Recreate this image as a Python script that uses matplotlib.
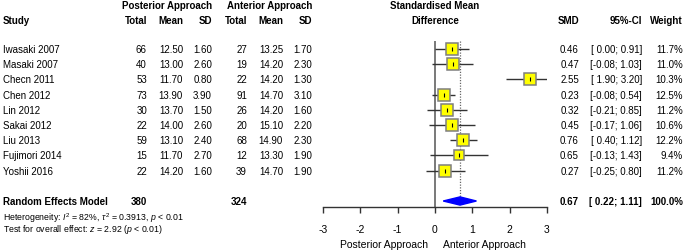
import numpy as np
import matplotlib
matplotlib.use("Agg")
import matplotlib.pyplot as plt

plt.rcParams['font.family'] = ['Liberation Sans', 'DejaVu Sans']
plt.rcParams['mathtext.fontset'] = 'custom'
plt.rcParams['mathtext.rm'] = 'Liberation Sans'
plt.rcParams['mathtext.it'] = 'Liberation Sans:italic'

# ─────────────────────────────────────────────
# Data
# ─────────────────────────────────────────────
studies   = ["Iwasaki 2007", "Masaki 2007", "Checn 2011", "Chen 2012", "Lin 2012",
             "Sakai 2012", "Liu 2013", "Fujimori 2014", "Yoshii 2016"]
n_post    = [66, 40, 53, 73, 30, 22, 59, 15, 22]
mean_post = [12.50, 13.00, 11.70, 13.90, 13.70, 14.00, 13.10, 11.70, 14.20]
sd_post   = [1.60, 2.60, 0.80, 3.90, 1.50, 2.60, 2.40, 2.70, 1.60]
n_ant     = [27, 19, 22, 91, 26, 20, 68, 12, 39]
mean_ant  = [13.25, 14.20, 14.20, 14.70, 14.20, 15.10, 14.90, 13.30, 14.70]
sd_ant    = [1.70, 2.30, 1.30, 3.10, 1.60, 2.20, 2.30, 1.90, 1.90]
smd       = [0.46, 0.47, 2.55, 0.23, 0.32, 0.45, 0.76, 0.65, 0.27]
ci_low    = [0.00, -0.08, 1.90, -0.08, -0.21, -0.17, 0.40, -0.13, -0.25]
ci_high   = [0.91, 1.03, 3.20, 0.54, 0.85, 1.06, 1.12, 1.43, 0.80]
weight    = [11.7, 11.0, 10.3, 12.5, 11.2, 10.6, 12.2, 9.4, 11.2]

pooled_smd, pooled_low, pooled_high = 0.67, 0.22, 1.11
total_post, total_ant = 380, 324
xticks = [-3, -2, -1, 0, 1, 2, 3]

# ─────────────────────────────────────────────
# Layout: rows are shared by the text and the plot
# ─────────────────────────────────────────────
W, H = 685, 253
row0, step = 50, 15.2               # pixel y of first study row, row spacing
ylim = ((H - row0) / step, -row0 / step)
summary_row = len(studies) + 1
axis_row = 10.39

fig = plt.figure(figsize=(W / 100, H / 100), dpi=100)

ax_t = fig.add_axes([0, 0, 1, 1])
ax_t.set_xlim(0, W)
ax_t.set_ylim(*ylim)
ax_t.axis('off')

ax = fig.add_axes([323 / W, 0, 224 / W, 1])
ax.set_xlim(-3, 3)
ax.set_ylim(*ylim)
ax.patch.set_alpha(0)

fs = 7
bold = dict(fontsize=fs, fontweight='bold', va='center')
norm = dict(fontsize=fs, va='center')

# headers
ax_t.text(212, -2.89, "Posterior Approach", ha='right', **bold)
ax_t.text(312, -2.89, "Anterior Approach", ha='right', **bold)
ax_t.text(3, -1.91, "Study", ha='left', **bold)
for x, lab in [(147, "Total"), (183, "Mean"), (212, "SD"),
               (247, "Total"), (283, "Mean"), (312, "SD")]:
    ax_t.text(x, -1.91, lab, ha='right', **bold)
ax_t.text(435, -2.89, "Standardised Mean", ha='center', **bold)
ax_t.text(435, -1.91, "Difference", ha='center', **bold)
ax_t.text(579, -1.91, "SMD", ha='right', **bold)
ax_t.text(642, -1.91, "95%-CI", ha='right', **bold)
ax_t.text(683, -1.91, "Weight", ha='right', **bold)

# study rows
for i, name in enumerate(studies):
    ax_t.text(3, i, name, ha='left', **norm)
    ax_t.text(147, i, f"{n_post[i]}", ha='right', **norm)
    ax_t.text(183, i, f"{mean_post[i]:.2f}", ha='right', **norm)
    ax_t.text(212, i, f"{sd_post[i]:.2f}", ha='right', **norm)
    ax_t.text(247, i, f"{n_ant[i]}", ha='right', **norm)
    ax_t.text(283, i, f"{mean_ant[i]:.2f}", ha='right', **norm)
    ax_t.text(312, i, f"{sd_ant[i]:.2f}", ha='right', **norm)
    ax_t.text(579, i, f"{smd[i]:.2f}", ha='right', **norm)
    lo = f"{ci_low[i]:.2f}" if ci_low[i] < 0 else f" {ci_low[i]:.2f}"
    ax_t.text(642, i, f"[{lo}; {ci_high[i]:.2f}]", ha='right', **norm)
    ax_t.text(683, i, f"{weight[i]:.1f}%", ha='right', **norm)

# summary row
ax_t.text(3, summary_row, "Random Effects Model", ha='left', **bold)
ax_t.text(147, summary_row, f"{total_post}", ha='right', **bold)
ax_t.text(247, summary_row, f"{total_ant}", ha='right', **bold)
ax_t.text(579, summary_row, f"{pooled_smd:.2f}", ha='right', **bold)
ax_t.text(642, summary_row, f"[ {pooled_low:.2f}; {pooled_high:.2f}]", ha='right', **bold)
ax_t.text(683, summary_row, "100.0%", ha='right', **bold)

ax_t.text(3, 11.05, r"Heterogeneity: $I^2$ = 82%, $\tau^2$ = 0.3913, $p$ < 0.01",
          ha='left', va='center', fontsize=6.3)
ax_t.text(3, 11.84, r"Test for overall effect: $z$ = 2.92 ($p$ < 0.01)",
          ha='left', va='center', fontsize=6.3)

# ─────────────────────────────────────────────
# Forest plot
# ─────────────────────────────────────────────
rows = np.arange(len(studies))
ax.vlines(0, -0.53, axis_row, color='#555555', lw=1.1, zorder=1)
ax.vlines(pooled_smd, -0.53, summary_row - 0.25, color='#666666', lw=0.9,
          linestyles=(0, (1, 1.2)), zorder=1)
ax.hlines(rows, ci_low, ci_high, color='#333333', lw=1.0, zorder=2)

w = np.array(weight)
side_px = 12 * np.sqrt(w / 11.7)
for i in rows:
    ax.plot(smd[i], i, marker='s', ms=side_px[i] * 0.72, mfc='#FFFF00',
            mec='#7f7f7f', mew=1.1, ls='none', zorder=3)
    ax.plot(smd[i], i, marker='|', ms=2.5, color='black', mew=0.8, zorder=4)

dh = 0.27
ax.fill([pooled_low, pooled_smd, pooled_high, pooled_smd],
        [summary_row, summary_row - dh, summary_row, summary_row + dh],
        color='#0000FF', zorder=3)

for s in ['top', 'right', 'left']:
    ax.spines[s].set_visible(False)
ax.spines['bottom'].set_position(('data', axis_row))
ax.spines['bottom'].set_color('#333333')
ax.spines['bottom'].set_linewidth(1.0)
ax.set_yticks([])
ax.set_xticks(xticks)
ax.set_xticklabels([str(t) for t in xticks])
ax.tick_params(axis='x', direction='out', length=4, width=1.0, color='#333333',
               labelsize=7.5, pad=8)

ax.text(-0.2, 12.83, "Posterior Approach", ha='right', va='center', fontsize=7.5)
ax.text(0.22, 12.83, "Anterior Approach", ha='left', va='center', fontsize=7.5)

fig.savefig("out.png", dpi=100)
